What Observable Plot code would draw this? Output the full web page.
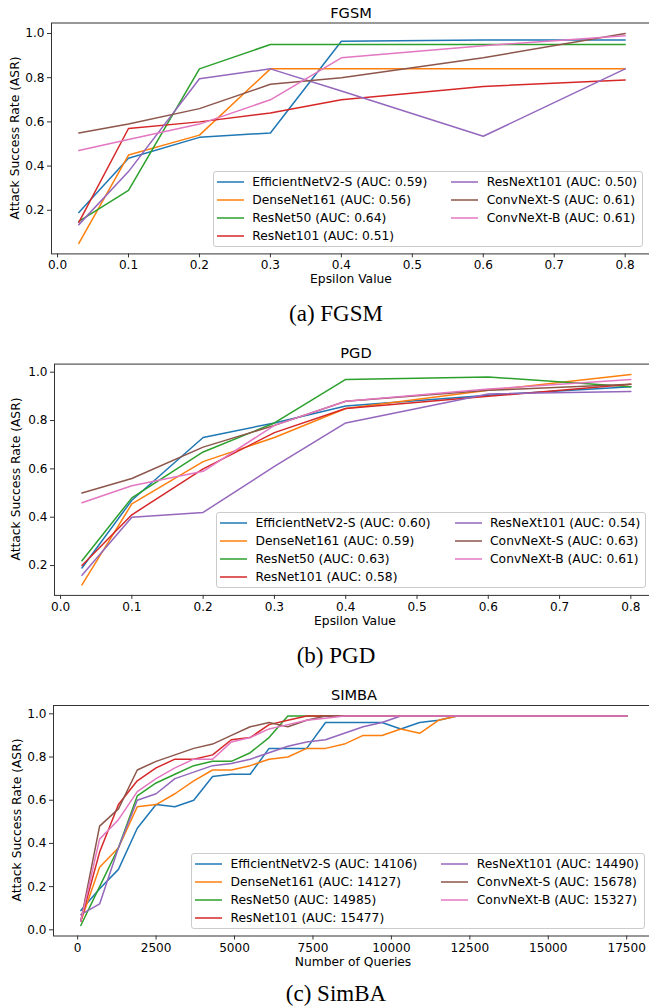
<!DOCTYPE html>
<html><head><meta charset="utf-8">
<script src="https://cdn.jsdelivr.net/npm/d3@7"></script>
<script src="https://cdn.jsdelivr.net/npm/@observablehq/plot@0.6"></script>
<style>
html,body{margin:0;padding:0;background:#fff;overflow:hidden;}
#root{position:relative;width:649px;height:1006px;overflow:hidden;font-family:"DejaVu Sans";color:#000;}
.abs{position:absolute;white-space:nowrap;line-height:1;}
.c{transform:translate(-50%,-50%);}
.ylab{transform:translate(-50%,-50%) rotate(-90deg);font-size:12.3px;}
.xlab{font-size:12.3px;}
.title{font-size:14.6px;}
.cap{font-family:"Liberation Serif";font-size:23px;}
.panel{position:absolute;left:0;}
.legend{position:absolute;display:grid;grid-template-rows:repeat(4,18.2px);grid-auto-flow:column;column-gap:24px;
  padding:1px 5px 0.5px 3px;border:1px solid #cccccc;border-radius:3px;background:rgba(255,255,255,0.8);
  font-size:12.3px;white-space:nowrap;line-height:1;}
.item{display:flex;align-items:center;}
.handle{width:27px;height:6px;margin-right:8.5px;flex:none;display:block;}
</style>
</head><body>
<div id="root"></div>
<script>
// ---- series ----
const models = ["EfficientNetV2-S","DenseNet161","ResNet50","ResNet101","ResNeXt101","ConvNeXt-S","ConvNeXt-B"];
const colors = ["#1f77b4","#ff7f0e","#2ca02c","#d62728","#9467bd","#8c564b","#e377c2"];

// ---- FGSM ----
const fgsmEps = [0.03,0.1,0.2,0.3,0.4,0.6,0.8];
const fgsmAUC = ["0.59","0.56","0.64","0.51","0.50","0.61","0.61"];
const fgsmASR = [
  [0.19,0.435,0.53,0.55,0.965,0.97,0.97],
  [0.05,0.45,0.54,0.84,0.84,0.84,0.84],
  [0.15,0.29,0.84,0.95,0.95,0.95,0.95],
  [0.145,0.57,0.60,0.64,0.70,0.76,0.79],
  [0.135,0.375,0.795,0.84,0.74,0.535,0.84],
  [0.55,0.59,0.66,0.77,0.80,0.89,1.0],
  [0.47,0.52,0.59,0.70,0.89,0.945,0.99]
];

// ---- PGD ----
const pgdEps = [0.03,0.1,0.2,0.3,0.4,0.6,0.8];
const pgdAUC = ["0.60","0.59","0.63","0.58","0.54","0.63","0.61"];
const pgdASR = [
  [0.19,0.47,0.73,0.79,0.86,0.905,0.94],
  [0.12,0.455,0.63,0.73,0.85,0.925,0.99],
  [0.22,0.48,0.67,0.79,0.97,0.98,0.94],
  [0.20,0.41,0.60,0.75,0.85,0.90,0.95],
  [0.16,0.40,0.42,0.61,0.79,0.91,0.92],
  [0.50,0.56,0.69,0.78,0.88,0.925,0.95],
  [0.46,0.53,0.59,0.78,0.88,0.93,0.97]
];

// ---- SimBA ----
const simbaQueries = [100,700,1300,1900,2500,3100,3700,4300,4900,5500,6100,6700,7300,7900,8500,9100,9700,10300,10900,11500,12100,12700,13300,13900,14500,15100,15700,16300,16900,17500];
const simbaAUC = ["14106","14127","14985","15477","14490","15678","15327"];
const simbaASR = [
  [0.09,0.19,0.28,0.47,0.58,0.57,0.60,0.71,0.72,0.72,0.84,0.84,0.84,0.96,0.96,0.96,0.96,0.93,0.96,0.97,0.99,0.99,0.99,0.99,0.99,0.99,0.99,0.99,0.99,0.99],
  [0.04,0.29,0.38,0.57,0.58,0.63,0.69,0.74,0.74,0.76,0.79,0.80,0.84,0.84,0.86,0.90,0.90,0.93,0.91,0.97,0.99,0.99,0.99,0.99,0.99,0.99,0.99,0.99,0.99,0.99],
  [0.02,0.20,0.38,0.62,0.68,0.72,0.76,0.78,0.78,0.82,0.89,0.99,0.99,0.99,0.99,0.99,0.99,0.99,0.99,0.99,0.99,0.99,0.99,0.99,0.99,0.99,0.99,0.99,0.99,0.99],
  [0.04,0.36,0.58,0.69,0.75,0.79,0.79,0.81,0.88,0.89,0.95,0.97,0.99,0.99,0.99,0.99,0.99,0.99,0.99,0.99,0.99,0.99,0.99,0.99,0.99,0.99,0.99,0.99,0.99,0.99],
  [0.07,0.12,0.38,0.60,0.63,0.70,0.73,0.76,0.77,0.79,0.82,0.85,0.87,0.88,0.91,0.94,0.96,0.99,0.99,0.99,0.99,0.99,0.99,0.99,0.99,0.99,0.99,0.99,0.99,0.99],
  [0.04,0.48,0.56,0.74,0.78,0.81,0.84,0.86,0.90,0.94,0.96,0.94,0.97,0.99,0.99,0.99,0.99,0.99,0.99,0.99,0.99,0.99,0.99,0.99,0.99,0.99,0.99,0.99,0.99,0.99],
  [0.04,0.42,0.51,0.64,0.70,0.75,0.79,0.79,0.87,0.89,0.93,0.95,0.97,0.98,0.99,0.99,0.99,0.99,0.99,0.99,0.99,0.99,0.99,0.99,0.99,0.99,0.99,0.99,0.99,0.99]
];

// ---- ticks ----
const epsTicks = [0,0.1,0.2,0.3,0.4,0.5,0.6,0.7,0.8];
const asrTicks = [0.2,0.4,0.6,0.8,1.0];
const asrTicksSimba = [0,0.2,0.4,0.6,0.8,1.0];
const queryTicks = [0,2500,5000,7500,10000,12500,15000,17500];

const root = document.getElementById("root");
const SVGNS = "http://www.w3.org/2000/svg";
function addText(cls, text, x, y) {
  const d = document.createElement("div");
  d.className = "abs " + cls;
  d.style.left = x + "px"; d.style.top = y + "px";
  d.textContent = text;
  root.appendChild(d);
}

function panel(o) {
  const data = [];
  models.forEach((m, i) => o.xs.forEach((x, j) => data.push({model: m, x, y: o.rows[i][j]})));
  const svg = Plot.plot({
    width: 649, height: o.height,
    marginLeft: o.L, marginRight: 649 - o.R, marginTop: o.T - o.top, marginBottom: o.top + o.height - o.B,
    x: {domain: o.xDomain}, y: {domain: o.yDomain},
    color: {domain: models, range: colors},
    style: {fontFamily: "DejaVu Sans", fontSize: "12.1px", background: "transparent", color: "#000"},
    marks: [
      Plot.line(data, {x: "x", y: "y", stroke: "model", z: "model", strokeWidth: 1.5}),
      Plot.frame({stroke: "#333", strokeWidth: 1}),
      Plot.axisX({ticks: o.xTicks, tickFormat: o.xFormat, tickSize: 4, tickPadding: 3, label: null, stroke: "#333", fill: "#000"}),
      Plot.axisY({ticks: o.yTicks, tickFormat: d3.format(".1f"), tickSize: 4, tickPadding: 3, label: null, stroke: "#333", fill: "#000"})
    ]
  });
  const wrap = document.createElement("div");
  wrap.className = "panel";
  wrap.style.top = o.top + "px";
  wrap.appendChild(svg);
  root.appendChild(wrap);

  addText("c title", o.title, o.titleX, o.titleY);
  addText("c xlab", o.xLabel, o.xLabelX, o.xLabelY);
  addText("ylab", "Attack Success Rate (ASR)", o.yLabelX, o.yLabelY);
  addText("c cap", o.caption, 336, o.capY);

  const lg = document.createElement("div");
  lg.className = "legend";
  lg.style.left = o.legLeft + "px"; lg.style.top = o.legTop + "px";
  models.forEach((m, i) => {
    const it = document.createElement("div");
    it.className = "item";
    const h = document.createElementNS(SVGNS, "svg");
    h.setAttribute("class", "handle");
    h.setAttribute("width", "27"); h.setAttribute("height", "6");
    const ln = document.createElementNS(SVGNS, "line");
    ln.setAttribute("x1", "0"); ln.setAttribute("x2", "27");
    ln.setAttribute("y1", "3"); ln.setAttribute("y2", "3");
    ln.setAttribute("stroke", colors[i]); ln.setAttribute("stroke-width", "1.5");
    h.appendChild(ln);
    const t = document.createElement("span");
    t.textContent = `${m} (AUC: ${o.auc[i]})`;
    it.appendChild(h); it.appendChild(t);
    lg.appendChild(it);
  });
  root.appendChild(lg);
}

panel({
  top: 0, height: 276, L: 51, R: 652, T: 22.5, B: 253.4,
  xDomain: [-0.0085, 0.8385], yDomain: [0.0025, 1.0475],
  xTicks: epsTicks, yTicks: asrTicks, xFormat: d3.format(".1f"),
  xs: fgsmEps, rows: fgsmASR, auc: fgsmAUC,
  title: "FGSM", titleX: 351, titleY: 13,
  xLabel: "Epsilon Value", xLabelX: 351, xLabelY: 279,
  yLabelX: 14.5, yLabelY: 138,
  caption: "(a) FGSM", capY: 313,
  legLeft: 212.7, legTop: 170.7
});

panel({
  top: 340, height: 280, L: 54, R: 657.8, T: 363.6, B: 594.9,
  xDomain: [-0.0085, 0.8385], yDomain: [0.0765, 1.0335],
  xTicks: epsTicks, yTicks: asrTicks, xFormat: d3.format(".1f"),
  xs: pgdEps, rows: pgdASR, auc: pgdAUC,
  title: "PGD", titleX: 356, titleY: 353,
  xLabel: "Epsilon Value", xLabelX: 355, xLabelY: 621,
  yLabelX: 16, yLabelY: 479,
  caption: "(b) PGD", capY: 655,
  legLeft: 216, legTop: 511.7
});

panel({
  top: 690, height: 265, L: 53, R: 653.5, T: 705, B: 935.5,
  xDomain: [-770, 18370], yDomain: [-0.0285, 1.0385],
  xTicks: queryTicks, yTicks: asrTicksSimba, xFormat: d => String(d),
  xs: simbaQueries, rows: simbaASR, auc: simbaAUC,
  title: "SIMBA", titleX: 354, titleY: 695,
  xLabel: "Number of Queries", xLabelX: 353, xLabelY: 962,
  yLabelX: 16.5, yLabelY: 820,
  caption: "(c) SimBA", capY: 993,
  legLeft: 191, legTop: 852.7
});
</script>
</body></html>
